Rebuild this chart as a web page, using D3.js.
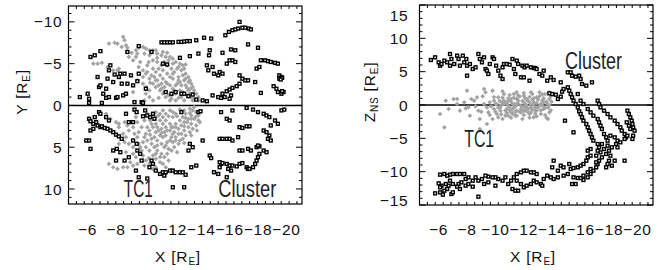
<!DOCTYPE html>
<html>
<head>
<meta charset="utf-8">
<title>TC1 and Cluster positions</title>
<script src="https://cdn.jsdelivr.net/npm/d3@7"></script>
<style>
  body { margin: 0; padding: 0; background: #fff; }
  svg { display: block; font-family: "Liberation Sans", Arial, sans-serif; }
  .frame { fill: none; stroke: #000; stroke-width: 1.2px; }
  .tick { stroke: #000; stroke-width: 1px; }
  .zero { stroke-width: 1.5px; }
  .tc1 { fill: #a3a3a3; }
  .cl { fill: #fff; stroke: #000; stroke-width: 1.4px; }
  .lbl { font-size: 15.5px; fill: #111; letter-spacing: 0.8px; }
  .name { font-size: 23px; fill: #222; }
</style>
</head>
<body>
<div id="chart"></div>
<script>
// tick labels
var xTicks = [-6, -8, -10, -12, -14, -16, -18, -20];
var leftYTicks = [-10, -5, 0, 5, 10];
var rightYTicks = [15, 10, 5, 0, -5, -10, -15];

// left panel: X vs Y, Cluster (black squares)
var leftCluster = [
  [-15.7,-8.4],[-15.95,-8.8],[-16.2,-9.0],[-16.4,-9.1],[-16.6,-9.2],[-16.9,-9.3],[-17.1,-9.3],[-17.35,-9.2],[-17.5,-9.1],[-16.7,-10.0],
  [-11.2,-7.55],[-11.4,-7.55],[-11.6,-7.55],[-11.8,-7.55],[-12.0,-7.55],[-12.4,-7.6],[-12.6,-7.6],[-12.8,-7.65],[-13.0,-7.7],[-13.2,-7.7],[-13.65,-7.8],[-14.2,-8.1],[-14.7,-8.0],
  [-6.2,-5.8],[-6.5,-6.0],[-6.9,-6.5],[-8.8,-6.4],[-9.6,-7.1],[-10.5,-6.4],
  [-13.8,-6.2],[-13.2,-5.9],[-14.6,-6.6],[-14.55,-6.0],[-15.5,-6.3],[-16.1,-6.7],[-16.4,-6.6],[-17.3,-7.3],[-18.0,-6.9],[-12.5,-5.7],
  [-14.4,-4.8],[-14.5,-4.2],[-14.8,-4.6],[-14.9,-3.8],[-15.2,-3.6],[-15.3,-4.0],[-15.5,-3.8],[-15.8,-5.0],[-16.0,-5.4],[-16.2,-5.4],[-16.4,-5.2],
  [-16.7,-3.6],[-16.9,-3.2],[-17.1,-3.0],[-17.3,-3.0],[-17.8,-2.8],[-17.9,-4.4],[-18.1,-4.6],
  [-18.2,-5.4],[-18.5,-5.4],[-18.7,-5.3],[-18.9,-5.2],[-19.2,-5.1],[-19.4,-5.0],
  [-19.5,-3.6],[-19.65,-3.4],[-19.5,-3.2],[-19.7,-3.3],[-19.6,-3.1],
  [-19.1,-2.3],[-19.3,-2.0],[-19.4,-1.6],[-19.65,-1.4],[-19.8,-1.6],[-19.7,-1.7],[-18.2,-1.5],
  [-15.5,-1.4],[-15.8,-1.7],[-16.0,-1.9],[-16.2,-2.1],[-16.5,-2.3],[-16.7,-2.6],
  [-14.8,-1.2],[-15.2,-1.0],[-15.4,-0.9],[-15.65,-1.0],[-16.0,-0.8],[-16.1,-1.2],[-14.1,-0.6],[-14.4,-0.5],
  [-11.3,-5.0],[-11.6,-4.9],[-11.5,-1.6],[-11.9,-1.4],[-12.2,-1.6],[-12.6,-1.4],[-12.8,-1.4],[-13.1,-1.1],[-13.4,-1.3],[-13.65,-0.7],
  [-5.45,-1.0],[-6.0,-1.4],[-6.1,-0.8],[-6.1,-0.3],[-6.7,-3.4],[-6.8,-2.2],[-6.9,-2.4],[-7.1,-1.4],[-7.3,-2.0],[-7.4,-3.2],
  [-7.5,-4.2],[-7.6,-4.8],[-7.8,-2.8],[-7.9,-3.7],[-8.0,-0.9],[-8.1,-1.0],[-8.2,-3.4],[-8.3,-3.8],[-8.4,-2.6],[-8.5,-1.2],
  [-8.6,-3.8],[-8.7,-1.4],[-8.8,-2.6],[-9.05,-3.6],[-9.2,-2.4],[-9.3,-0.4],[-9.5,-2.9],[-9.6,-3.8],[-9.8,-0.4],[-9.9,-0.3],
  [-10.1,-2.0],[-7.3,-0.9],[-7.5,-1.0],[-7.0,-0.3],
  [-6.1,1.6],[-6.2,1.9],[-6.4,2.2],[-6.6,2.0],[-6.7,2.4],[-6.9,2.6],[-7.0,2.5],[-7.2,2.7],[-7.4,2.8],[-7.6,3.0],
  [-7.8,3.2],[-8.0,3.5],[-8.2,3.7],[-8.4,4.0],[-6.2,3.0],[-6.4,2.8],[-5.9,4.2],[-6.1,4.2],[-6.2,5.2],[-6.8,0.8],
  [-6.9,1.0],[-7.3,1.4],[-7.5,1.8],[-6.5,1.4],
  [-7.8,5.4],[-8.0,6.6],[-8.05,5.2],[-8.3,5.6],[-8.6,6.6],[-8.9,6.2],[-9.2,4.2],[-9.45,4.6],[-9.5,5.4],[-9.7,5.8],
  [-9.8,6.6],[-8.9,2.0],[-9.2,2.0],[-9.3,0.5],[-9.45,0.8],[-9.9,1.3],[-10.2,1.2],[-10.4,1.4],[-10.7,1.6],[-10.05,0.6],
  [-10.6,1.0],[-8.7,1.0],
  [-9.4,7.8],[-9.6,8.6],[-10.2,8.75],[-10.35,7.4],[-10.5,6.6],[-10.6,7.0],[-10.8,7.8],[-11.1,8.2],[-11.3,8.0],[-11.5,8.0],
  [-11.8,7.8],[-12.0,7.8],[-12.2,8.0],[-12.5,8.0],[-12.7,8.0],[-12.9,8.3],[-13.3,7.4],[-13.65,7.2],[-12.0,9.8],[-12.8,9.8],[-11.4,8.4],
  [-12.6,0.8],[-13.8,0.8],[-13.95,0.7],[-13.1,5.4],[-13.4,5.0],[-14.1,4.2],[-14.6,6.0],[-14.7,6.3],[-14.9,8.0],[-15.3,7.4],
  [-15.4,7.0],[-13.2,4.6],
  [-15.4,0.8],[-15.8,1.6],[-16.0,1.8],[-16.2,0.6],[-17.2,0.3],[-17.65,0.5],[-18.0,0.8],[-18.4,1.0],[-18.6,1.2],[-18.8,1.4],
  [-19.2,1.8],[-19.4,2.2],[-19.65,0.6],[-19.85,0.5],[-18.9,2.4],[-16.7,2.6],[-16.9,2.7],[-17.2,2.5],[-17.4,2.5],[-18.4,3.0],
  [-18.6,3.2],[-18.8,3.6],[-18.7,4.0],[-18.9,4.2],
  [-15.3,4.0],[-15.5,4.0],[-15.8,4.0],[-16.0,4.0],[-16.2,4.2],[-16.6,3.8],[-16.7,5.4],[-16.9,5.4],[-17.3,5.2],[-17.5,5.4],
  [-17.9,5.0],[-18.1,4.9],[-18.4,5.4],[-18.6,5.6],[-18.0,4.8],
  [-15.3,6.8],[-15.5,6.9],[-15.8,7.0],[-16.0,7.2],[-16.2,7.2],[-16.5,7.3],[-16.7,7.0],[-16.9,6.9],[-17.2,7.4],[-17.3,7.6],
  [-17.4,7.6],[-17.65,7.4],[-17.8,7.0],[-17.9,6.6],[-18.0,6.2],[-18.1,5.8],
  [-15.8,8.6],[-16.1,7.8],[-15.9,7.6],[-15.2,8.2]
];

// left panel: TC1 (grey dots)
var leftTC1 = [
  [-7.5,-7.4],[-7.9,-7.5],[-8.1,-7.4],[-8.5,-8.2],[-8.6,-7.8],[-8.7,-7.2],[-8.4,-7.0],[-8.8,-6.9],[-8.9,-5.8],[-9.4,-6.6],
  [-9.4,-5.8],[-9.5,-6.2],[-9.9,-7.0],[-10.1,-6.8],[-10.35,-6.6],[-10.6,-6.6],[-10.8,-6.6],[-10.9,-6.2],[-11.2,-6.0],[-11.3,-6.4],
  [-11.5,-5.8],[-11.8,-5.8],[-12.0,-5.6],[-12.2,-5.2],[-12.5,-5.0],[-12.7,-4.8],[-12.8,-4.4],[-12.9,-3.8],[-13.1,-3.4],[-13.2,-3.0],
  [-13.3,-2.6],[-13.4,-2.2],[-13.5,-1.8],[-13.65,-1.4],[-13.8,-1.0],[-13.8,-0.6],
  [-6.4,-5.0],[-6.7,-5.0],[-7.0,-5.1],[-7.4,-4.6],[-7.8,-4.2],[-8.1,-4.2],[-8.2,-4.4],[-9.2,-5.4],[-9.6,-4.6],[-9.9,-4.2],
  [-10.1,-3.8],[-10.2,-4.8],[-10.6,-4.4],[-10.8,-4.0],[-11.1,-3.6],[-11.3,-3.2],[-11.5,-2.8],[-11.8,-2.4],[-12.0,-2.0],[-12.2,-2.4],
  [-12.5,-2.8],[-12.4,-3.4],[-12.1,-4.0],[-11.9,-4.4],[-11.6,-4.8],[-11.4,-5.2],[-12.0,-5.0],[-12.4,-4.6],[-12.6,-4.2],[-12.7,-3.6],
  [-12.8,-3.0],[-12.9,-2.4],[-13.1,-1.8],[-13.2,-1.4],[-13.3,-1.0],[-13.4,-0.6],[-9.9,-2.6],[-10.1,-2.2],[-10.35,-1.8],[-10.6,-2.6],
  [-10.8,-2.2],[-11.1,-1.8],[-11.3,-1.4],[-11.5,-1.0],[-10.1,-1.4],[-10.35,-1.0],[-10.6,-0.6],[-10.0,-0.6],[-10.9,-3.0],[-11.2,-2.6],
  [-11.4,-2.2],[-9.9,-3.4],[-9.5,-3.0],[-11.3,-4.2],[-11.6,-3.8],[-9.2,-1.6],[-12.5,-1.8],[-12.7,-1.6],[-12.6,-1.0],[-12.8,-0.6],
  [-11.8,-0.6],[-12.2,-0.6],[-12.0,-3.2],[-12.6,-2.4],[-13.1,-2.8],[-13.25,-2.0],[-13.4,-1.4],[-13.5,-0.8],[-12.2,-1.4],[-11.9,-1.2],
  [-10.6,-5.4],[-10.9,-5.2],[-10.35,-6.0],[-10.0,-6.2],[-10.7,-3.4],[-10.35,-3.2],
  [-10.2,-4.0],[-10.5,-3.6],[-10.8,-3.0],[-11.0,-2.4],[-11.2,-2.0],[-11.4,-1.6],[-11.7,-1.2],[-11.9,-0.8],[-12.1,-1.8],[-12.3,-2.6],
  [-12.4,-3.0],[-12.0,-3.8],[-11.8,-3.4],[-11.6,-2.6],[-11.0,-4.4],[-11.2,-4.8],[-11.7,-5.4],[-12.3,-4.4],[-12.9,-3.2],[-13.0,-2.1],
  [-13.0,-1.2],[-12.4,-0.9],[-11.0,-0.9],[-10.4,-2.7],[-10.3,-5.2],[-9.7,-5.2],[-9.1,-6.3],[-9.6,-6.9],[-10.9,-5.7],[-11.6,-6.3],
  [-12.9,-4.9],
  [-7.3,1.0],[-7.6,1.6],[-8.0,2.0],[-8.2,2.6],[-8.5,3.4],[-8.7,3.8],[-8.9,4.6],[-9.2,5.0],[-7.5,7.0],[-7.8,7.4],
  [-8.1,7.6],[-8.5,7.4],[-8.8,7.4],[-9.2,7.2],[-9.5,7.0],[-9.9,6.6],[-8.2,2.2],[-8.6,2.0],[-8.9,3.0],[-9.3,3.4],
  [-9.5,3.8],[-9.6,4.6],[-9.8,5.4],[-9.9,6.0],[-10.1,6.6],[-10.35,7.0],[-10.6,7.6],[-10.8,7.4],[-10.2,1.0],[-10.6,1.0],
  [-10.8,1.4],[-11.1,1.8],[-11.3,2.2],[-11.5,2.6],[-11.8,3.0],[-12.0,3.4],[-12.2,3.8],[-12.5,4.2],[-12.7,4.0],[-12.9,3.6],
  [-13.2,3.2],[-13.4,2.8],[-13.65,2.4],[-13.8,1.8],[-13.8,1.2],[-13.65,0.8],[-13.4,0.6],[-13.2,0.4],[-12.9,1.0],[-12.7,1.4],
  [-12.5,1.8],[-12.2,2.2],[-12.0,2.6],[-11.8,2.2],[-11.5,1.8],[-11.3,1.4],[-11.1,1.0],[-10.8,2.2],[-10.6,2.6],[-10.35,3.0],
  [-10.1,3.4],[-10.0,3.8],[-10.2,4.2],[-10.5,4.6],[-10.7,5.0],[-10.9,5.4],[-11.2,5.8],[-11.4,6.2],[-11.6,5.8],[-11.9,5.4],
  [-12.1,5.0],[-12.4,4.6],[-12.6,3.4],[-12.8,3.0],[-13.1,2.6],[-13.3,2.2],[-13.5,1.6],[-10.35,5.4],[-10.6,6.0],[-10.8,6.4],
  [-11.1,6.8],[-11.3,7.0],[-11.5,7.4],[-10.1,5.0],[-9.9,4.4],[-10.7,3.8],[-10.9,4.2],[-11.2,4.6],[-11.4,5.0],[-11.6,4.4],
  [-11.9,3.8],[-12.1,3.2],[-12.4,2.8],[-12.6,2.4],[-12.8,2.0],[-13.1,1.6],[-13.3,1.2],[-10.8,3.2],[-11.1,3.6],[-11.3,3.8],
  [-11.5,3.6],[-11.8,4.2],[-12.0,4.4],[-9.5,2.0],[-9.8,2.6],[-9.4,1.4],[-10.0,1.8],[-9.2,5.8],[-9.4,6.2],[-8.7,5.6],
  [-8.2,4.6],[-12.2,1.0],[-12.5,0.5],[-12.8,0.6],[-13.5,0.2],[-11.5,1.0],[-11.8,0.6],[-12.0,1.4],[-11.2,2.8],[-11.4,3.2],
  [-10.5,2.2],[-10.2,2.6],
  [-10.4,1.8],[-10.9,2.6],[-11.0,3.0],[-11.6,3.0],[-12.2,2.6],[-12.4,3.4],[-12.8,2.5],[-13.0,2.0],[-13.3,1.6],[-13.6,1.4],
  [-12.9,1.5],[-12.3,1.3],[-11.7,1.3],[-11.0,1.2],[-11.9,2.6],[-11.2,3.3],[-10.4,3.5],[-10.5,4.0],[-10.9,4.8],[-11.5,4.8],
  [-12.2,4.2],[-11.7,5.2],[-10.8,5.8],[-11.1,6.2],[-10.3,6.3],[-9.7,5.0],[-9.6,3.2],[-9.2,2.6],[-8.8,2.4],[-8.6,4.4],
  [-9.0,6.8],[-10.0,7.2],[-11.7,6.6],[-12.3,5.6],[-12.8,4.5],[-13.3,3.6],[-13.7,3.0],[-13.9,2.0],[-13.2,0.9],[-12.0,0.8],
  [-11.3,0.6],[-10.8,0.8]
];

// right panel: X vs Z_NS, Cluster (black squares)
var rightCluster = [
  [-5.45,6.75],[-5.75,7.15],[-6.0,6.4],[-6.1,5.9],[-6.2,6.15],[-6.4,6.65],[-6.6,6.4],[-6.8,7.65],[-6.8,5.9],[-6.9,6.9],
  [-7.1,6.15],[-7.3,7.4],[-7.4,6.9],[-7.5,5.9],[-7.7,7.4],[-7.8,6.4],[-7.95,6.9],[-8.0,5.9],[-8.0,4.4],[-8.2,6.15],
  [-8.4,5.4],[-8.6,5.65],[-8.8,7.65],[-8.9,6.9],[-9.05,6.4],[-9.2,7.15],[-9.3,5.4],[-9.4,5.15],[-9.5,4.65],[-9.6,6.15],
  [-9.8,7.15],[-9.9,6.9],[-10.05,5.9],[-10.2,5.15],[-10.35,4.4],[-10.5,3.9],[-10.5,5.65],[-10.6,6.15],[-10.8,6.15],[-11.0,6.05],
  [-11.2,6.9],[-11.3,5.4],[-11.4,4.65],[-11.5,6.65],[-11.6,6.15],[-11.8,4.15],[-11.9,5.9],[-12.0,4.15],[-12.05,5.65],[-12.2,5.9],
  [-12.4,3.65],[-12.5,5.65],[-12.7,5.55],[-12.8,5.55],[-12.9,5.4],[-13.1,4.65],[-13.3,4.4],[-13.4,5.15],[-13.65,3.65],[-13.9,4.15],
  [-14.1,3.75],[-14.6,3.4],[-15.1,4.9],[-15.3,4.9],[-15.4,4.4],[-15.65,4.25],[-15.9,4.4],[-16.0,3.9],[-16.1,3.15],[-16.4,2.9],[-16.8,3.4],
  [-13.8,1.75],[-14.0,1.65],[-14.25,1.55],[-14.4,0.9],[-14.6,1.25],[-14.7,2.0],[-14.8,2.4],[-15.1,2.65],[-15.2,2.15],[-15.3,1.65],
  [-15.4,1.15],[-15.5,0.65],[-15.65,0.15],[-15.8,-0.35],[-15.9,-0.95],[-16.0,-1.35],[-16.1,-1.85],[-16.2,-2.35],[-16.4,-2.85],[-16.5,-3.35],
  [-16.6,-3.85],[-16.7,-4.35],[-16.8,-4.85],[-16.9,-5.35],[-17.2,-5.85],
  [-15.8,1.65],[-16.0,0.65],[-16.2,0.15],[-16.5,-0.6],[-16.7,-1.1],[-16.9,-1.6],[-17.2,-2.1],[-17.3,-2.6],[-17.4,-3.1],[-17.5,-3.6],
  [-17.65,-4.35],[-17.8,-4.85],[-17.9,-5.35],[-17.2,0.65],[-17.3,0.15],[-17.4,-0.35],[-17.65,-0.85],[-17.9,-1.35],[-18.1,-1.85],[-18.4,-2.35],
  [-18.6,-2.85],[-18.8,-3.35],[-18.9,-3.85],[-19.1,-4.35],[-19.2,-4.85],[-19.3,-0.85],[-19.4,-1.35],[-19.5,-1.85],[-19.6,-2.35],[-19.65,-2.85],
  [-19.7,-3.35],[-19.8,-3.85],[-19.7,-4.6],[-19.65,-5.1],[-19.5,-3.6],[-19.4,-3.1],[-19.25,-2.6],
  [-18.1,-4.6],[-18.4,-4.85],[-18.6,-5.35],[-18.5,-5.85],[-18.2,-6.35],[-18.0,-6.85],[-17.8,-7.35],[-17.5,-7.85],[-17.3,-8.35],[-17.2,-8.85],
  [-17.1,-9.35],[-16.9,-9.85],[-16.7,-10.35],[-16.5,-10.85],[-16.2,-11.25],[-18.6,-6.35],[-18.8,-5.6],[-19.1,-5.1],[-19.3,-4.6],[-17.3,-6.35],
  [-17.5,-5.85],[-17.65,-6.6],[-17.4,-7.1],[-17.9,-6.1],[-18.1,-7.6],[-18.0,-8.35],[-17.9,-8.85],[-17.8,-9.35],[-18.4,-8.35],[-18.2,-9.1],
  [-19.1,-8.35],[-14.9,-2.35],[-15.5,-4.1],[-16.7,-6.6],[-17.1,-7.6],[-16.5,-7.85],[-17.2,-6.85],
  [-14.1,-8.35],[-14.0,-9.35],[-14.4,-9.85],[-14.6,-9.1],[-14.8,-9.35],[-15.2,-8.85],[-15.3,-9.6],[-15.5,-9.45],[-15.8,-9.35],[-16.0,-9.1],
  [-16.2,-8.85],[-16.4,-8.35],[-16.5,-6.85],[-16.7,-7.6],[-15.5,-10.85],[-15.8,-10.95],[-16.0,-10.95],[-16.2,-10.6],[-16.5,-10.1],[-16.7,-9.6],
  [-17.1,-8.6],[-15.4,-11.85],[-15.65,-11.85],[-15.1,-10.35],[-14.8,-10.6],[-14.4,-10.85],[-14.1,-11.1],[-13.9,-10.85],[-13.65,-10.6],[-13.4,-11.1],
  [-13.2,-11.85],[-13.3,-12.1],[-12.9,-10.35],[-12.7,-10.1],[-12.5,-10.1],[-12.2,-9.85],[-12.0,-9.85],[-11.8,-10.1],[-11.5,-10.35],[-11.3,-10.85],
  [-11.1,-11.35],[-10.9,-11.85],[-11.2,-12.6],[-11.4,-12.85],[-11.6,-12.85],[-12.0,-12.35],[-12.2,-12.1],[-12.5,-11.85],[-12.7,-11.35],[-12.9,-11.6],
  [-11.8,-11.85],[-11.5,-11.35],[-10.7,-10.85],[-10.5,-11.35],[-10.2,-11.1],[-10.0,-10.85],[-9.8,-10.85],[-9.5,-10.75],[-9.3,-10.6],[-9.05,-11.1],
  [-8.8,-11.35],[-10.0,-12.1],[-8.8,-13.75],[-8.6,-10.85],[-8.4,-11.35],[-8.1,-10.85],[-7.9,-11.1],[-7.6,-11.6],[-7.4,-11.85],[-7.3,-10.35],
  [-7.5,-10.35],[-7.8,-10.35],[-7.0,-10.35],[-6.8,-10.45],[-6.6,-10.6],[-6.4,-10.35],[-6.1,-10.45],[-6.8,-11.35],[-7.0,-11.85],[-7.3,-12.25],
  [-6.7,-12.1],[-6.5,-11.85],[-6.2,-12.1],[-6.0,-11.75],[-6.1,-12.35],[-6.4,-12.85],[-6.6,-12.6],[-5.75,-13.25],[-6.1,-13.1],[-6.3,-13.45],
  [-6.9,-13.35],[-7.0,-13.1],[-7.5,-12.6],[-7.9,-12.1],[-8.1,-11.85],[-8.4,-12.25],[-9.2,-11.85],[-9.5,-11.6]
];

// right panel: TC1 (grey dots)
var rightTC1 = [
  [-6.1,-1.35],[-6.5,0.65],[-6.7,-0.6],[-6.4,-3.35],[-7.05,0.9],[-7.3,0.15],[-7.5,-0.85],[-7.8,0.4],[-8.0,2.15],[-8.1,-0.35],
  [-8.2,-1.6],[-8.5,0.65],[-8.7,1.15],[-8.8,-0.85],[-8.9,-2.1],[-9.2,0.15],[-9.3,1.9],[-9.4,-0.35],[-9.5,-1.1],[-9.6,0.4],
  [-9.8,2.15],[-9.9,-0.6],[-10.0,0.15],[-10.1,-1.35],[-10.2,1.15],[-10.35,-0.35],[-10.5,0.4],[-10.5,-2.1],[-10.6,1.65],[-10.7,-0.85],
  [-10.8,0.15],[-10.9,-1.6],[-11.1,0.9],[-11.2,-0.6],[-11.3,1.65],[-11.35,0.15],[-11.4,-1.6],[-11.5,-0.85],[-11.6,0.65],[-11.8,-0.1],
  [-11.9,-2.1],[-12.0,1.4],[-12.0,-0.85],[-12.1,0.15],[-12.2,0.9],[-12.4,-1.35],[-12.5,-0.35],[-12.6,1.65],[-12.7,0.4],[-12.7,-1.85],
  [-12.8,-0.85],[-12.9,1.15],[-13.1,-0.1],[-13.2,-1.35],[-13.3,0.65],[-13.4,-0.6],[-13.5,1.65],[-13.65,0.15],[-13.7,-2.1],[-13.8,-1.1],
  [-13.8,0.9],[-10.1,0.15],[-10.35,-0.85],[-10.6,0.15],[-10.8,-0.6],[-11.1,-1.1],[-11.3,-0.35],[-11.5,0.15],[-11.8,-1.1],[-12.0,0.4],
  [-12.2,-0.35],[-12.5,-1.1],[-12.7,0.15],[-12.9,-0.85],[-13.2,0.15],[-13.4,0.4],[-9.9,0.65],[-10.6,0.65],[-10.9,-0.1],[-11.5,0.9],
  [-12.1,-0.85],[-12.8,-0.35],[-12.4,0.4],[-11.2,0.15],[-10.7,-1.6],[-10.2,-1.85],[-9.8,-2.1],[-9.4,-2.85],[-8.9,-3.6],[-9.2,2.4],
  [-10.5,2.05],[-12.5,1.9],[-13.1,1.9],[-13.8,1.9],[-7.3,0.9],
  [-9.7,-0.2],[-9.9,1.2],[-10.0,-1.0],[-10.3,0.6],[-10.4,-1.4],[-10.5,1.1],[-10.7,0.4],[-10.8,-1.2],[-10.9,1.0],[-11.0,-0.3],
  [-11.1,0.5],[-11.2,-1.3],[-11.3,1.1],[-11.4,-0.2],[-11.5,-1.6],[-11.6,0.2],[-11.7,1.3],[-11.8,-0.6],[-11.9,0.6],[-12.0,-1.5],
  [-12.1,1.0],[-12.2,-0.1],[-12.3,-1.1],[-12.4,1.2],[-12.5,0.0],[-12.6,-0.7],[-12.7,1.0],[-12.8,-1.3],[-12.9,0.3],[-13.0,-0.4],
  [-13.1,1.3],[-13.2,-0.8],[-13.3,-0.1],[-13.4,1.0],[-13.5,-1.5],[-13.6,0.5],[-13.7,-0.4],[-13.8,0.0],[-13.9,-0.8],[-13.9,1.3],
  [-11.0,1.5],[-11.7,-1.0],[-12.3,0.6],[-12.9,-1.7],[-10.2,-0.4],[-9.6,-1.5],[-9.0,-1.0],[-8.6,-0.2],[-8.3,0.9],[-7.9,-0.5],
  [-9.1,1.3],[-13.3,1.6],[-12.0,1.8],[-11.5,1.9],[-13.6,-1.9],[-12.4,-1.9],[-11.1,-1.9],[-13.95,0.5],
  [-10.4,0.0],[-10.9,0.6],[-11.4,-1.0],[-11.6,1.4],[-12.3,-0.6],[-12.6,0.8],[-13.0,0.8],[-13.5,-0.4],[-12.0,-0.3],[-11.0,-0.8]
];

var W = 667, H = 270;
var svg = d3.select("#chart").append("svg")
  .attr("width", W).attr("height", H);

svg.append("rect").attr("width", W).attr("height", H).attr("fill", "#fff");

function drawPanel(opt) {
  var x = d3.scaleLinear().domain([-4.65, -21.1]).range([opt.left, opt.right]);
  var y = d3.scaleLinear().domain(opt.yDomain).range([opt.top, opt.bottom]);
  var g = svg.append("g");

  // zero line
  g.append("line").attr("class", "tick zero")
    .attr("x1", opt.left).attr("x2", opt.right)
    .attr("y1", y(0)).attr("y2", y(0))
    .attr("stroke", opt.zeroColor);

  // grey TC1 dots (small diamonds)
  var dot = d3.symbol(d3.symbolSquare, 11);
  g.append("g").selectAll("path")
    .data(opt.tc1).enter().append("path")
    .attr("class", "tc1")
    .attr("d", dot)
    .attr("transform", function(d) { return "translate(" + x(d[0]) + "," + y(d[1]) + ") rotate(45)"; });

  // Cluster squares
  var s = 2.9;
  g.append("g").selectAll("rect")
    .data(opt.cluster).enter().append("rect")
    .attr("class", "cl")
    .attr("x", function(d) { return x(d[0]) - s / 2; })
    .attr("y", function(d) { return y(d[1]) - s / 2; })
    .attr("width", s).attr("height", s);

  // frame
  g.append("rect").attr("class", "frame")
    .attr("x", opt.left).attr("y", opt.top)
    .attr("width", opt.right - opt.left).attr("height", opt.bottom - opt.top);

  // minor ticks on x (top + bottom)
  var xMinor = d3.range(0, 30).map(function(i) { return -4.65 - i * 0.555; });
  xMinor.forEach(function(v) {
    var px = x(v);
    g.append("line").attr("class", "tick").attr("x1", px).attr("x2", px)
      .attr("y1", opt.bottom).attr("y2", opt.bottom - 3);
    g.append("line").attr("class", "tick").attr("x1", px).attr("x2", px)
      .attr("y1", opt.top).attr("y2", opt.top + 3);
  });

  // y ticks left + right
  var yLo = Math.ceil(Math.min(opt.yDomain[0], opt.yDomain[1]));
  var yHi = Math.floor(Math.max(opt.yDomain[0], opt.yDomain[1]));
  d3.range(yLo, yHi + 1).forEach(function(v) {
    var len = (v % 5 === 0) ? 6 : 3;
    var py = y(v);
    g.append("line").attr("class", "tick").attr("x1", opt.left).attr("x2", opt.left + len)
      .attr("y1", py).attr("y2", py);
    g.append("line").attr("class", "tick").attr("x1", opt.right).attr("x2", opt.right - len)
      .attr("y1", py).attr("y2", py);
  });

  // y tick labels
  g.selectAll("text.yl").data(opt.yTicks).enter().append("text")
    .attr("class", "lbl yl")
    .attr("text-anchor", "end")
    .attr("x", opt.left - opt.labelGap)
    .attr("y", function(d) {
      var py = y(d);
      if (py < opt.top + 8) py = opt.top + 10;
      if (py > opt.bottom - 4) py = opt.bottom - 5;
      return py;
    })
    .attr("dy", "0.36em")
    .text(function(d) { return d < 0 ? "\u2212" + Math.abs(d) : d; });

  // x tick labels (well below the axis)
  g.selectAll("text.xl").data(xTicks).enter().append("text")
    .attr("class", "lbl xl")
    .attr("text-anchor", "middle")
    .attr("x", function(d) { return x(d); })
    .attr("y", 235)
    .text(function(d) { return "\u2212" + Math.abs(d); });

  // x title
  var xt = g.append("text").attr("class", "lbl")
    .attr("text-anchor", "middle")
    .attr("x", opt.xTitleX).attr("y", 262);
  xt.append("tspan").text("X  [R");
  xt.append("tspan").attr("font-size", "10px").attr("dy", 3).text("E");
  xt.append("tspan").attr("dy", -3).text("]");

  // y title
  var yt = g.append("text").attr("class", "lbl")
    .attr("text-anchor", "middle")
    .attr("transform", "translate(" + opt.yTitleX + "," + opt.yTitleY + ") rotate(-90)");
  yt.append("tspan").text(opt.yName);
  if (opt.yNameSub) yt.append("tspan").attr("font-size", "10px").attr("dy", 3).text(opt.yNameSub);
  yt.append("tspan").attr("dy", opt.yNameSub ? -3 : 0).text("  [R");
  yt.append("tspan").attr("font-size", "10px").attr("dy", 3).text("E");
  yt.append("tspan").attr("dy", -3).text("]");

  // spacecraft names
  opt.names.forEach(function(n) {
    g.append("text").attr("class", "name")
      .attr("x", x(n.x)).attr("y", y(n.y))
      .attr("textLength", n.len).attr("lengthAdjust", "spacingAndGlyphs")
      .text(n.text);
  });
}

drawPanel({
  left: 68.5, right: 302, top: 6, bottom: 204,
  yDomain: [-11.9, 11.8],
  yTicks: leftYTicks,
  labelGap: 6,
  tc1: leftTC1, cluster: leftCluster,
  zeroColor: "#444",
  xTitleX: 178, yTitleX: 27, yTitleY: 92,
  yName: "Y", yNameSub: null,
  names: [
    { text: "TC1", x: -8.55, y: 11.0, len: 29 },
    { text: "Cluster", x: -15.2, y: 11.0, len: 58 }
  ]
});

drawPanel({
  left: 419.5, right: 653, top: 5, bottom: 205,
  yDomain: [15, -15],
  yTicks: rightYTicks,
  labelGap: 11,
  tc1: rightTC1, cluster: rightCluster,
  zeroColor: "#000",
  xTitleX: 533, yTitleX: 375, yTitleY: 92,
  yName: "Z", yNameSub: "NS",
  names: [
    { text: "TC1", x: -7.8, y: -6.3, len: 30 },
    { text: "Cluster", x: -14.9, y: 5.4, len: 57 }
  ]
});
</script>
</body>
</html>
